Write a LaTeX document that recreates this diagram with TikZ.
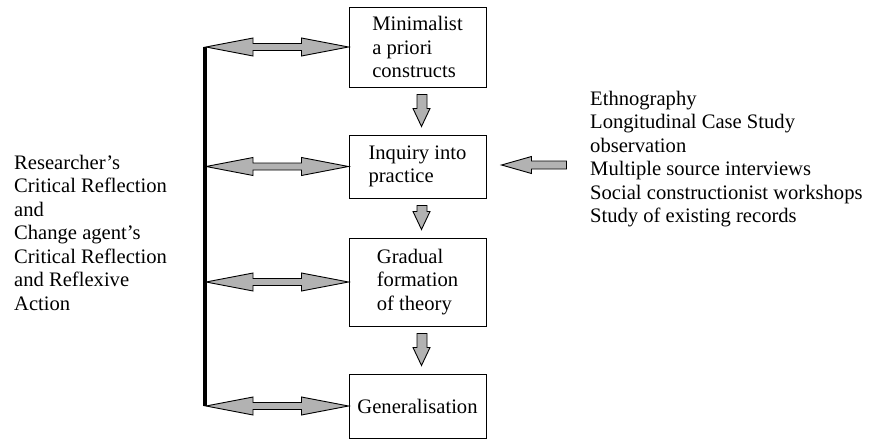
\documentclass[tikz,border=0pt]{standalone}
\usepackage{fontspec}
\setmainfont{Liberation Serif}
\usetikzlibrary{calc}

\definecolor{grisbloc}{RGB}{178,178,178}

% fleche pleine vers le bas, de #1 vers #2
\newcommand{\flechebas}[2]{%
  \draw[bloc] ($(#1.south)+(-0.5,7)$) -- +(10,0) -- ($(#2.north)+(9.5,-26)$) -- +(3,0)
    -- ($(#2.north)+(4,-8)$) -- ($(#2.north)+(-4.5,-26)$) -- +(4,0) -- cycle;}

% double fleche entre la barre et la boite #1
\newcommand{\flechedouble}[1]{%
  \draw[bloc] ($(barre |- #1.west)+(1,0)$) -- +(47,-9) -- +(47,-3.5)
    -- ($(#1.west)+(-47,-3.5)$) -- +(0,-5.5) -- (#1.west) -- ($(#1.west)+(-47,9)$) -- +(0,-5.5)
    -- ($(barre |- #1.west)+(48,3.5)$) -- +(0,5.5) -- cycle;}

\begin{document}
\begin{tikzpicture}[x=1pt, y=-1pt,
  every node/.style={font=\fontsize{20.6}{23.5}\selectfont},
  boite/.style={draw, line width=1pt, minimum width=137pt, align=left, inner sep=0pt},
  texte/.style={align=left, inner sep=0pt},
  bloc/.style={draw, line width=0.9pt, fill=grisbloc, line join=miter}]
  \useasboundingbox (0,0) rectangle (873,439);

  % Boites (au centre)
  \node[boite, minimum height=80pt] (mini) at (417.5,47) {Minimalist\\ a priori\\constructs};
  \node[boite, minimum height=63pt] (inquiry) at (417.5,166.5) {Inquiry into\\practice};
  \node[boite, minimum height=88pt] (gradual) at (417.5,282) {Gradual\\formation\\of theory};
  \node[boite, minimum height=64pt] (general) at (417.5,406) {Generalisation};

  % Textes (gauche et droite)
  \node[texte, anchor=north west] (reflect) at (14,155)
    {Researcher’s\\Critical Reflection\\and\\Change agent’s\\Critical Reflection\\and Reflexive\\Action};
  \node[texte, anchor=north west] (methods) at (590,91)
    {Ethnography\\Longitudinal Case Study\\observation\\Multiple source interviews\\Social constructionist workshops\\Study of existing records};

  % Barre verticale
  \coordinate (barre) at (205,0);
  \draw[line width=4pt] (barre |- mini.west) -- (barre |- general.west);

  % Fleches
  \flechebas{mini}{inquiry}
  \flechebas{inquiry}{gradual}
  \flechebas{gradual}{general}
  \flechedouble{mini}
  \flechedouble{inquiry}
  \flechedouble{gradual}
  \flechedouble{general}
  \draw[bloc] ($(inquiry.east)+(15,-1.5)$) -- +(30,-8.5) -- +(30,-4) -- +(65,-4) -- +(65,4)
    -- +(30,4) -- +(30,8.5) -- cycle;
\end{tikzpicture}
\end{document}
